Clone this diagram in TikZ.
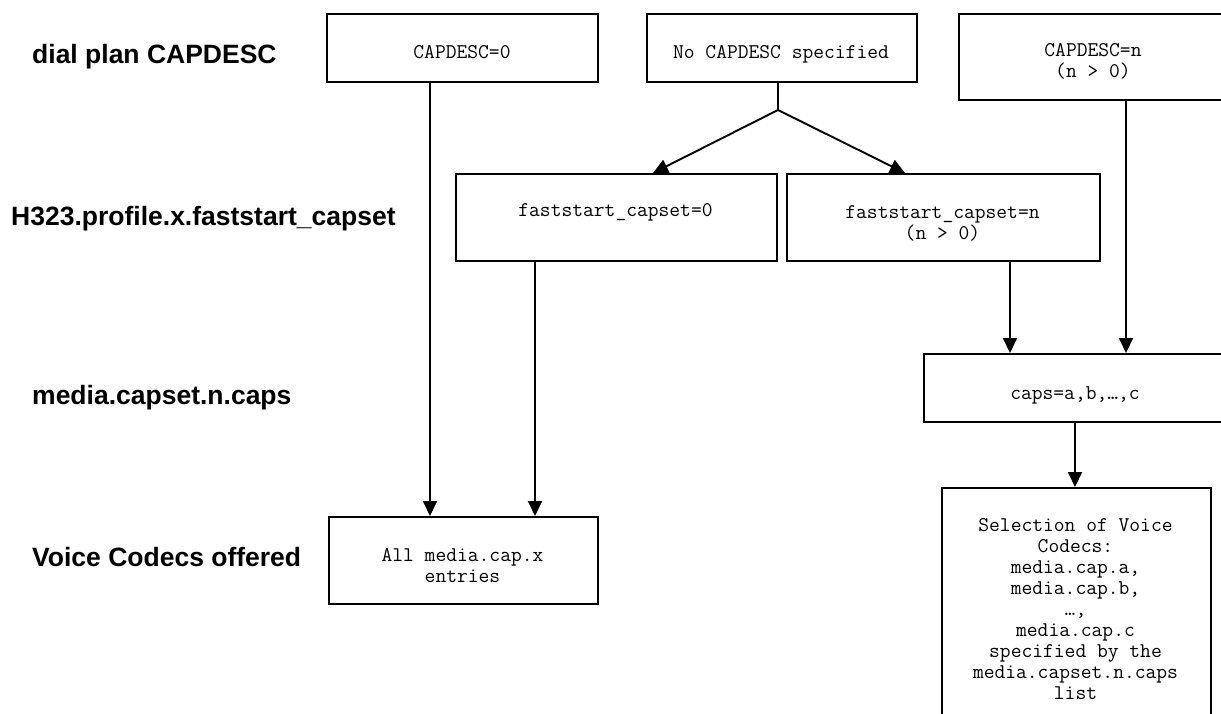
\documentclass[tikz,border=0pt]{standalone}
\usepackage{fontspec}
\setmainfont{Liberation Sans}
\usetikzlibrary{arrows.meta}
\begin{document}
\begin{tikzpicture}[x=1pt,y=-1pt,
  box/.style={draw, line width=1.9pt, anchor=north west, inner sep=0pt, fill=white},
  lbl/.style={anchor=base west, inner sep=0pt, font=\fontsize{26.5}{32}\selectfont\bfseries},
  txt/.style={anchor=base, inner sep=0pt, align=center, font=\fontsize{20.95}{21}\selectfont\ttfamily},
  arr/.style={line width=1.9pt, -{Triangle[width=14pt,length=15pt]}},
  conn/.style={line width=1.9pt}]
\useasboundingbox (0,0) rectangle (1221,713);
\clip (0,0) rectangle (1221,713);
\fill[white] (0,0) rectangle (1221,713);
% row labels
\node[lbl] (l1) at (32,63.5) {dial plan CAPDESC};
\node[lbl] (l2) at (11,225.5) {H323.profile.x.faststart\_capset};
\node[lbl] (l3) at (32,404.5) {media.capset.n.caps};
\node[lbl] (l4) at (32,566.5) {Voice Codecs offered};
% boxes
\node[box, minimum width=271pt, minimum height=68pt] (cap0) at (326,13) {};
\node[box, minimum width=270pt, minimum height=68pt] (capno) at (646,13) {};
\node[box, minimum width=270pt, minimum height=86pt] (capn) at (958,13) {};
\node[box, minimum width=321pt, minimum height=87pt] (fs0) at (455,173) {};
\node[box, minimum width=313pt, minimum height=87pt] (fsn) at (786,173) {};
\node[box, minimum width=304pt, minimum height=68pt] (caps) at (923,353) {};
\node[box, minimum width=269pt, minimum height=87pt] (all) at (328,516) {};
\node[box, minimum width=269pt, minimum height=260pt] (sel) at (941,487) {};
% texts (anchor base = baseline of the last line)
\node[txt] (t1) at (462,58) {CAPDESC=0};
\node[txt] (t2) at (781,58) {No CAPDESC specified};
\node[txt] (t3) at (1093,77.5) {CAPDESC=n\\(n > 0)};
\node[txt] (t4) at (615.5,216) {faststart\_capset=0};
\node[txt] (t5) at (942.5,239) {faststart\_capset=n\\(n > 0)};
\node[txt] (t6) at (1075,399) {caps=a,b,…,c};
\node[txt] (t7) at (462.5,582) {All media.cap.x\\entries};
\node[txt] (t8) at (1075.5,699) {Selection of Voice\\Codecs:\\media.cap.a,\\media.cap.b,\\…,\\media.cap.c\\specified by the\\media.capset.n.caps\\list};
% helper x positions
\coordinate (x430) at (430,0);
\coordinate (x535) at (535,0);
\coordinate (x653) at (653,0);
\coordinate (x778) at (778,0);
\coordinate (x905) at (905,0);
\coordinate (x1010) at (1010,0);
\coordinate (x1075) at (1075,0);
\coordinate (x1126) at (1126,0);
\coordinate (br) at (778,110);
% connectors
\draw[arr] (cap0.south -| x430) -- (all.north -| x430);
\draw[conn] (capno.south -| x778) -- (br);
\draw[arr] (br) -- (fs0.north -| x653);
\draw[arr] (br) -- (fsn.north -| x905);
\draw[arr] (fs0.south -| x535) -- (all.north -| x535);
\draw[arr] (fsn.south -| x1010) -- (caps.north -| x1010);
\draw[arr] (capn.south -| x1126) -- (caps.north -| x1126);
\draw[arr] (caps.south -| x1075) -- (sel.north -| x1075);
\end{tikzpicture}
\end{document}
